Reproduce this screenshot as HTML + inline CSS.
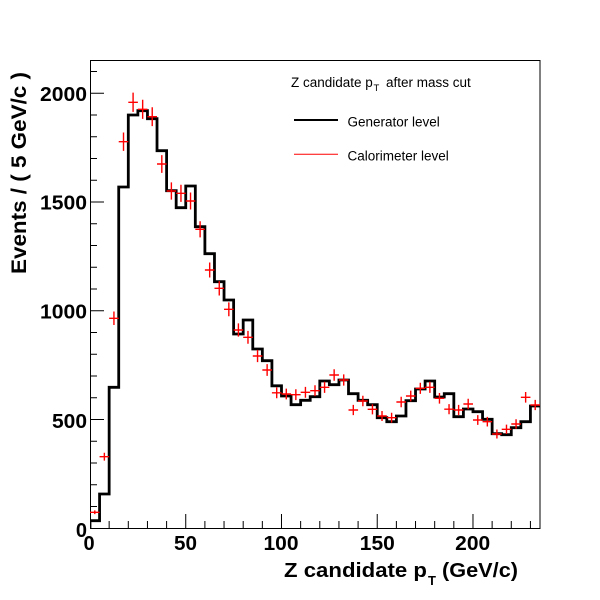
<!DOCTYPE html>
<html>
<head>
<meta charset="utf-8">
<style>
html,body{margin:0;padding:0;background:#fff;}
svg{display:block;}
text{font-family:"Liberation Sans",Arial,sans-serif;}
</style>
</head>
<body>
<svg width="600" height="600" viewBox="0 0 600 600" xmlns="http://www.w3.org/2000/svg">
<rect x="0" y="0" width="600" height="600" fill="#fff"/>
<defs>
<clipPath id="fr"><rect x="90" y="60" width="450" height="468.5"/></clipPath>
</defs>
<rect x="90.5" y="60.5" width="449.5" height="468" fill="none" stroke="#000" stroke-width="1"/>
<path fill="none" stroke="#000" stroke-width="1" d="M90,506.55h7 M90,484.8h7 M90,463.05h7 M90,441.3h7 M90,397.8h7 M90,376.05h7 M90,354.3h7 M90,332.55h7 M90,289.05h7 M90,267.3h7 M90,245.55h7 M90,223.8h7 M90,180.3h7 M90,158.55h7 M90,136.8h7 M90,115.05h7 M90,71.55h7 M90,419.55h14 M90,310.8h14 M90,202.05h14 M90,93.3h14"/>
<path fill="none" stroke="#000" stroke-width="1" d="M109.15,528v-7 M128.3,528v-7 M147.45,528v-7 M166.6,528v-7 M204.89,528v-7 M224.04,528v-7 M243.19,528v-7 M262.34,528v-7 M300.64,528v-7 M319.79,528v-7 M338.94,528v-7 M358.09,528v-7 M396.38,528v-7 M415.53,528v-7 M434.68,528v-7 M453.83,528v-7 M492.13,528v-7 M511.28,528v-7 M530.43,528v-7 M185.74,528v-14 M281.49,528v-14 M377.23,528v-14 M472.98,528v-14"/>
<g clip-path="url(#fr)">
<path fill="none" stroke="#000" stroke-width="2.8" d="M90,528.3 V520.7 H99.57 V494 H109.15 V387.3 H118.72 V187 H128.30 V115 H137.87 V110.7 H147.45 V118.7 H157.02 V150.7 H166.60 V190.7 H176.17 V207.7 H185.74 V186 H195.32 V226.7 H204.89 V253.7 H214.47 V281.7 H224.04 V300 H233.62 V334 H243.19 V320 H252.77 V349 H262.34 V360.7 H271.91 V385.8 H281.49 V396 H291.06 V404.7 H300.64 V400.3 H310.21 V396.7 H319.79 V381 H329.36 V384.7 H338.94 V380 H348.51 V393.7 H358.09 V400.3 H367.66 V404.7 H377.23 V417.7 H386.81 V421.7 H396.38 V416 H405.96 V400.7 H415.53 V389 H425.11 V381 H434.68 V397 H444.26 V393.7 H453.83 V416.7 H463.40 V409 H472.98 V411.7 H482.55 V419.3 H492.13 V433.7 H501.70 V434.7 H511.28 V427.7 H520.85 V421.7 H530.43 V406 H542"/>
<path fill="none" stroke="#ff0000" stroke-width="1.4" d="M90,512.3H99.57 M94.79,510.43V514.17 M99.57,456.7H109.15 M104.36,452.76V460.64 M109.15,318.3H118.72 M113.94,311.54V325.06 M118.72,141.7H128.30 M123.51,132.53V150.87 M128.30,102.3H137.87 M133.09,92.68V111.92 M137.87,109.3H147.45 M142.66,99.75V118.85 M147.45,116.7H157.02 M152.23,107.24V126.16 M157.02,164H166.60 M161.81,155.1V172.9 M166.60,191H176.17 M171.38,182.43V199.57 M176.17,193.3H185.74 M180.96,184.77V201.83 M185.74,201H195.32 M190.53,192.56V209.44 M195.32,229.3H204.89 M200.11,221.23V237.37 M204.89,270H214.47 M209.68,262.5V277.5 M214.47,288.3H224.04 M219.26,281.08V295.52 M224.04,309.3H233.62 M228.83,302.4V316.2 M233.62,330H243.19 M238.40,323.43V336.57 M243.19,337.3H252.77 M247.98,330.86V343.74 M252.77,356H262.34 M257.55,349.88V362.12 M262.34,370H271.91 M267.13,364.13V375.87 M271.91,392.8H281.49 M276.70,387.37V398.23 M281.49,394H291.06 M286.28,388.6V399.4 M291.06,394.7H300.64 M295.85,389.31V400.09 M300.64,392.3H310.21 M305.43,386.86V397.74 M310.21,390.7H319.79 M315.00,385.23V396.17 M319.79,387.3H329.36 M324.57,381.76V392.84 M329.36,375H338.94 M334.15,369.22V380.78 M338.94,380H348.51 M343.72,374.32V385.68 M348.51,410H358.09 M353.30,404.93V415.07 M358.09,401H367.66 M362.87,395.74V406.26 M367.66,409.3H377.23 M372.45,404.21V414.39 M377.23,416H386.81 M382.02,411.06V420.94 M386.81,417.7H396.38 M391.60,412.8V422.6 M396.38,402H405.96 M401.17,396.76V407.24 M405.96,396H415.53 M410.74,390.64V401.36 M415.53,388.3H425.11 M420.32,382.78V393.82 M425.11,387.3H434.68 M429.89,381.76V392.84 M434.68,398.3H444.26 M439.47,392.98V403.62 M444.26,409.2H453.83 M449.04,404.11V414.29 M453.83,410H463.40 M458.62,404.93V415.07 M463.40,404H472.98 M468.19,398.8V409.2 M472.98,420H482.55 M477.77,415.15V424.85 M482.55,421.7H492.13 M487.34,416.89V426.51 M492.13,434H501.70 M496.91,429.48V438.52 M501.70,429.3H511.28 M506.49,424.66V433.94 M511.28,424H520.85 M516.06,419.23V428.77 M520.85,397.3H530.43 M525.64,391.96V402.64 M530.43,405H540 M535.21,399.82V410.18"/>
</g>
<g font-weight="bold" font-size="20" fill="#000" text-anchor="end">
<text x="87" y="101" textLength="47" lengthAdjust="spacingAndGlyphs">2000</text>
<text x="87" y="209.5" textLength="47" lengthAdjust="spacingAndGlyphs">1500</text>
<text x="87" y="318.5" textLength="47" lengthAdjust="spacingAndGlyphs">1000</text>
<text x="87" y="428" textLength="35" lengthAdjust="spacingAndGlyphs">500</text>
<text x="87" y="537">0</text>
</g>
<g font-weight="bold" font-size="20" fill="#000" text-anchor="middle">
<text x="89" y="550">0</text>
<text x="185.5" y="550" textLength="23" lengthAdjust="spacingAndGlyphs">50</text>
<text x="281" y="550" textLength="35" lengthAdjust="spacingAndGlyphs">100</text>
<text x="377.3" y="550" textLength="35" lengthAdjust="spacingAndGlyphs">150</text>
<text x="472.7" y="550" textLength="35" lengthAdjust="spacingAndGlyphs">200</text>
</g>
<g font-weight="bold" fill="#000">
<text x="284" y="577" font-size="20.5" textLength="143" lengthAdjust="spacingAndGlyphs">Z candidate p</text>
<text x="428" y="585" font-size="13">T</text>
<text x="442" y="577" font-size="20.5" textLength="76" lengthAdjust="spacingAndGlyphs">(GeV/c)</text>
</g>
<text transform="translate(26,274) rotate(-90)" x="0" y="0" font-weight="bold" font-size="21" fill="#000" textLength="202" lengthAdjust="spacingAndGlyphs">Events / ( 5 GeV/c )</text>
<g font-size="13.5" fill="#000">
<text x="291" y="87">Z candidate p</text>
<text x="373.5" y="91" font-size="9.5">T</text>
<text x="386" y="87">after mass cut</text>
<text x="347.5" y="126.5">Generator level</text>
<text x="347.5" y="160.5">Calorimeter level</text>
</g>
<line x1="294" y1="120" x2="338" y2="120" stroke="#000" stroke-width="2"/>
<line x1="294" y1="154.3" x2="338" y2="154.3" stroke="#ff0000" stroke-width="1"/>
</svg>
</body>
</html>
